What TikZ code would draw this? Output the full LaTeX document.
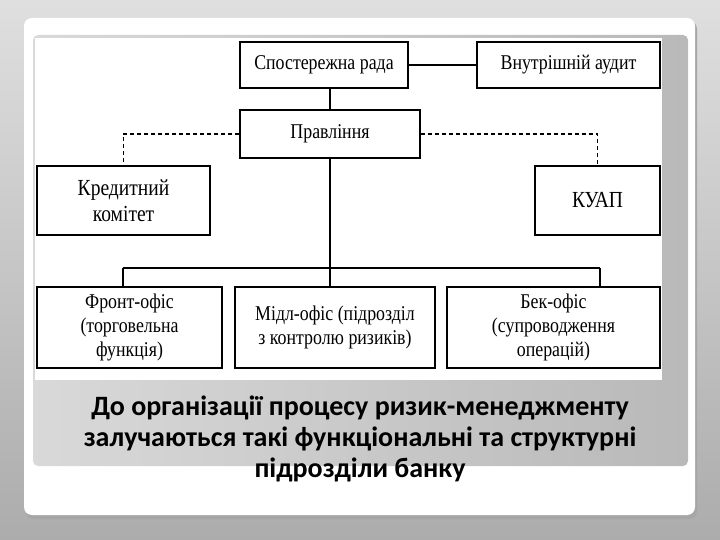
\documentclass[tikz,border=0pt]{standalone}
\usepackage{fontspec}
\setmainfont{Liberation Serif}[FakeStretch=0.85]
\newfontfamily\capfont{Carlito}
\begin{document}
\begin{tikzpicture}[x=1pt,y=-1pt,
  bx/.style={draw,line width=1.4pt,fill=white,align=center,font=\fontsize{21}{24}\selectfont,inner sep=0pt},
  ln/.style={line width=1.3pt},
  dl/.style={line width=1.3pt,dash pattern=on 4pt off 3pt}]
\useasboundingbox (0,0) rectangle (720,540);
\shade[top color=gray!25,bottom color=gray!65] (0,0) rectangle (720,540);
\fill[gray!70,rounded corners=8pt] (26,21) rectangle (697,519);
\fill[white,rounded corners=8pt] (24,18) rectangle (695,515);
\shade[left color=gray!30,right color=gray!55,rounded corners=5pt] (33,35) rectangle (688,466);
\fill[white] (35,38) rectangle (662,380);
\node[bx,minimum width=168,minimum height=46] (sr) at (324,65) {Спостережна рада};
\node[bx,minimum width=183,minimum height=46] (va) at (568.5,65) {Внутрішній аудит};
\node[bx,minimum width=180,minimum height=48] (pr) at (330,134) {Правління};
\node[bx,minimum width=173,minimum height=69,font=\fontsize{23}{26}\selectfont] (kk) at (123.5,200.5) {Кредитний\\комітет};
\node[bx,minimum width=125,minimum height=69,font=\fontsize{23}{26}\selectfont] (ku) at (597.5,200.5) {КУАП};
\node[bx,minimum width=185,minimum height=81] (fo) at (129.5,327.5) {Фронт-офіс\\(торговельна\\функція)};
\node[bx,minimum width=200,minimum height=81] (mo) at (335,327.5) {Мідл-офіс (підрозділ\\з контролю ризиків)};
\node[bx,minimum width=213,minimum height=81] (bo) at (553.5,327.5) {Бек-офіс\\(супроводження\\операцій)};
\coordinate (bl) at (123,268);
\coordinate (bm) at (330,268);
\coordinate (br) at (600,268);
\draw[ln] (sr) -- (va);
\draw[ln] (sr.south -| pr.north) -- (pr.north);
\draw[ln] (pr.south) -- (bm);
\draw[ln] (bl) -- (br);
\draw[ln] (bl) -- (bl |- fo.north);
\draw[ln] (bm) -- (bm |- mo.north);
\draw[ln] (br) -- (br |- bo.north);
\draw[dl] (pr.west) -| (kk.north);
\draw[dl] (pr.east) -| (ku.north);
\node[font=\capfont\bfseries\fontsize{28}{31}\selectfont,align=center] (cap) at (360,439) {До організації процесу ризик-менеджменту\\залучаються такі функціональні та структурні\\підрозділи банку};
\end{tikzpicture}
\end{document}
